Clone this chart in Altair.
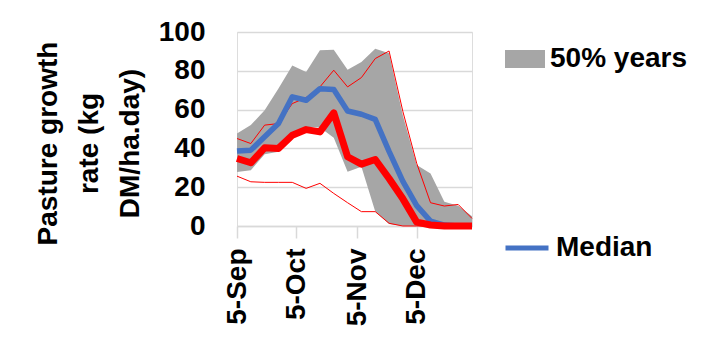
import altair as alt
import pandas as pd

# weekly dates starting 5-Sep
start = "2019-09-05"
n_weeks = 18
band_hi = [47.7, 52.0, 59.7, 70.9, 82.7, 79.4, 90.6, 90.9, 80.6, 84.6, 91.4, 89.0, 57.0, 31.4, 27.0, 12.5, 10.5, 5.0]
band_lo = [27.8, 28.8, 37.0, 38.3, 46.0, 51.0, 50.8, 45.5, 28.0, 30.5, 7.5, 1.0, 0.0, 0.0, 0.0, 0.0, 0.0, 0.0]
median = [38.6, 39.1, 46.0, 52.8, 66.6, 64.8, 70.8, 70.3, 59.3, 57.6, 55.0, 38.5, 23.0, 10.5, 2.5, 0.5, 0.0, 0.0]
red_thick = [34.8, 32.6, 40.3, 40.0, 46.8, 49.7, 48.5, 58.3, 35.7, 31.9, 34.3, 24.5, 14.0, 2.0, 0.5, 0.0, 0.0, 0.0]
red_hi = [45.1, 42.5, 52.0, 52.8, 63.1, 66.2, 71.7, 80.3, 71.7, 76.5, 86.3, 90.2, 59.0, 32.3, 12.0, 10.3, 11.1, 3.9]
red_lo = [25.7, 22.8, 22.5, 22.5, 22.5, 19.4, 22.0, 16.8, 12.0, 7.4, 7.4, 1.4, 0.0, 0.0, 0.0, 0.0, 0.0, 0.0]
tick_dates = ["2019-09-05", "2019-10-05", "2019-11-05", "2019-12-05"]
y_ticks = [0, 20, 40, 60, 80, 100]
band_label = "50% years"
median_label = "Median"
y_title = ["Pasture growth", "rate (kg", "DM/ha.day)"]

dates = pd.date_range(start, periods=n_weeks, freq="7D")
df = pd.DataFrame({
    "date": [d.strftime("%Y-%m-%dT00:00:00") for d in dates],
    "band_hi": band_hi,
    "band_lo": band_lo,
    "median": median,
    "red": red_thick,
    "red_hi": red_hi,
    "red_lo": red_lo,
})

FONT = "Liberation Sans"
FS = 28

def dt(s):
    y, m, d = [int(v) for v in s.split("-")]
    return alt.DateTime(year=y, month=m, date=d)

x_axis = alt.Axis(
    title=None,
    values=[dt(s) for s in tick_dates],
    format="%-d-%b",
    labelAngle=270,
    labelFont=FONT, labelFontSize=FS, labelFontWeight="bold", labelColor="black",
    labelPadding=10, labelOverlap=False,
    tickSize=12, tickColor="#d9d9d9", tickWidth=1.5,
    domainColor="#d9d9d9", domainWidth=1.5,
    grid=False,
)
x_scale = alt.Scale(domain=[dt(start), dt(dates[-1].strftime("%Y-%m-%d"))], nice=False)

y_scale = alt.Scale(domain=[0, 100], nice=False)
y_axis = alt.Axis(
    values=y_ticks, tickCount=6,
    title=y_title,
    titleFont=FONT, titleFontSize=FS, titleFontWeight="bold", titleColor="black",
    titleAngle=270, titleAlign="center", titleBaseline="top",
    titleX=-203, titleY=111, titleLineHeight=41,
    labelFont=FONT, labelFontSize=FS, labelFontWeight="bold", labelColor="black",
    labelPadding=32, ticks=False, domain=False, labelOverlap=False, labelFlush=False,
    grid=True, gridColor="#d9d9d9", gridWidth=1.5,
)


def X():
    return alt.X("date:T", scale=x_scale, axis=x_axis)


def Y(field):
    return alt.Y(f"{field}:Q", scale=y_scale, axis=y_axis)


base = alt.Chart(df)

band = base.transform_calculate(series=f"'{band_label}'").mark_area(opacity=1, interpolate="linear").encode(
    x=X(),
    y=Y("band_lo"),
    y2="band_hi:Q",
    fill=alt.Fill("series:N", scale=alt.Scale(domain=[band_label], range=["#a6a6a6"]),
                  legend=alt.Legend(
                      title=None, orient="none", legendX=268, legendY=7, padding=0,
                      symbolType="M-1,-0.45L1,-0.45L1,0.45L-1,0.45Z", symbolSize=1600,
                      symbolStrokeWidth=0, symbolOpacity=1,
                      labelFont=FONT, labelFontSize=FS, labelFontWeight="bold", labelColor="black",
                      labelOffset=5,
                  )),
)

thin_hi = base.mark_line(color="#ff0000", strokeWidth=1).encode(x=X(), y=Y("red_hi"))
thin_lo = base.mark_line(color="#ff0000", strokeWidth=1).encode(x=X(), y=Y("red_lo"))

med = base.transform_calculate(series=f"'{median_label}'").mark_line(strokeWidth=5.5, strokeJoin="round").encode(
    x=X(),
    y=Y("median"),
    stroke=alt.Stroke("series:N", scale=alt.Scale(domain=[median_label], range=["#4472c4"]),
                      legend=alt.Legend(
                          title=None, orient="none", legendX=266, legendY=192, padding=0,
                          symbolType="stroke", symbolSize=1849, symbolStrokeWidth=5,
                          labelFont=FONT, labelFontSize=FS, labelFontWeight="bold", labelColor="black",
                          labelOffset=5,
                      )),
)

red = base.mark_line(color="#ff0000", strokeWidth=7, strokeJoin="round").encode(x=X(), y=Y("red"))

chart = alt.layer(band, thin_hi, thin_lo, med, red).properties(
    width=235, height=194,
    autosize=alt.AutoSizeParams(type="none"),
    padding={"left": 229, "top": 24, "right": 225, "bottom": 106},
).configure_view(stroke=None).configure(background="white")

chart.save("out.html", embed_options={"renderer": "svg", "actions": False})
